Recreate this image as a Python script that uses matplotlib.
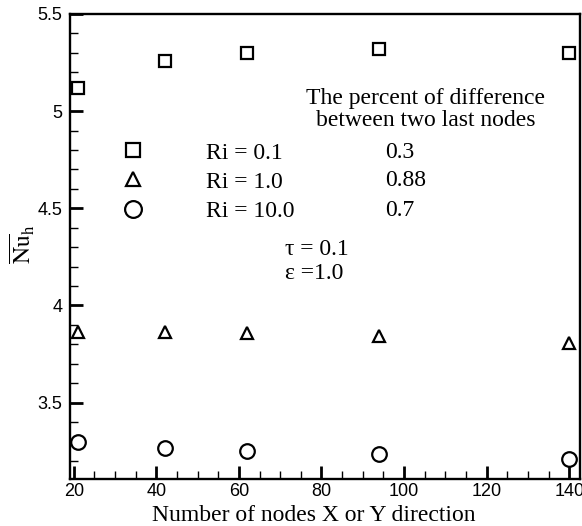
import matplotlib
matplotlib.use("Agg")
import matplotlib.pyplot as plt
from matplotlib.ticker import MultipleLocator, FormatStrFormatter

#%% Data
nodes = [21, 42, 62, 94, 140]
nu_ri01 = [5.12, 5.26, 5.30, 5.32, 5.30]
nu_ri1 = [3.865, 3.866, 3.86, 3.845, 3.807]
nu_ri10 = [3.295, 3.265, 3.25, 3.235, 3.21]
ri_labels = ["Ri = 0.1", "Ri = 1.0", "Ri = 10.0"]
pct_diff = ["0.3", "0.88", "0.7"]

#%% Style
plt.rcParams["font.family"] = "Liberation Serif"
plt.rcParams["mathtext.fontset"] = "stix"
serif = 17

fig = plt.figure(figsize=(5.82, 5.26), dpi=100)
ax = fig.add_axes([70/582, 1 - 479/526, 510/582, 465/526])

mk = dict(linestyle="none", markerfacecolor="white", markeredgecolor="black",
          markeredgewidth=1.6)
l1, = ax.plot(nodes, nu_ri01, marker="s", markersize=8.6, **mk)
l2, = ax.plot(nodes, nu_ri1, marker="^", markersize=8.6, **mk)
l3, = ax.plot(nodes, nu_ri10, marker="o", markersize=10.5, **mk)

ax.set_xlim(19.1, 142.6)
ax.set_ylim(3.107, 5.5)
ax.xaxis.set_major_locator(MultipleLocator(20))
ax.xaxis.set_minor_locator(MultipleLocator(5))
ax.yaxis.set_major_locator(MultipleLocator(0.5))
ax.yaxis.set_minor_locator(MultipleLocator(0.1))
ax.yaxis.set_major_formatter(FormatStrFormatter("%g"))
ax.tick_params(which="both", direction="in", top=False, right=False)
ax.tick_params(which="major", length=9.4, width=2)
ax.tick_params(which="minor", length=5.8, width=1)
ax.tick_params(axis="y", pad=5.5)
ax.tick_params(axis="x", pad=3)
for lab in ax.get_xticklabels() + ax.get_yticklabels():
    lab.set_fontfamily("Liberation Sans")
    lab.set_fontsize(13)
for sp in ax.spines.values():
    sp.set_linewidth(1.7)

ax.set_xlabel("Number of nodes X or Y direction", fontsize=serif)
ax.xaxis.set_label_coords(0.4775, -0.0555)
ax.set_ylabel(r"$\overline{\mathrm{Nu}}_{\mathrm{h}}$", fontsize=serif)
ax.yaxis.set_label_coords(-0.065, 0.505)

#%% Legend block
ax.legend([l1, l2, l3], ri_labels, loc="upper left", bbox_to_anchor=(0.10, 0.7245),
          frameon=False, fontsize=serif, handlelength=1.0, handletextpad=2.6,
          borderpad=0, borderaxespad=0, labelspacing=0.32, markerscale=1.15)

ax.text(0.698, 0.795, "The percent of difference\nbetween two last nodes",
        transform=ax.transAxes, ha="center", va="center", fontsize=serif,
        linespacing=1.1)
for yy, txt in zip([0.702, 0.641, 0.578], pct_diff):
    ax.text(0.618, yy, txt, transform=ax.transAxes, ha="left", va="center",
            fontsize=serif)
ax.text(0.4216, 0.4925, "τ = 0.1", transform=ax.transAxes, ha="left",
        va="center", fontsize=serif)
ax.text(0.4216, 0.443, "ε =1.0", transform=ax.transAxes, ha="left",
        va="center", fontsize=serif)

fig.savefig("out.png", dpi=100)
